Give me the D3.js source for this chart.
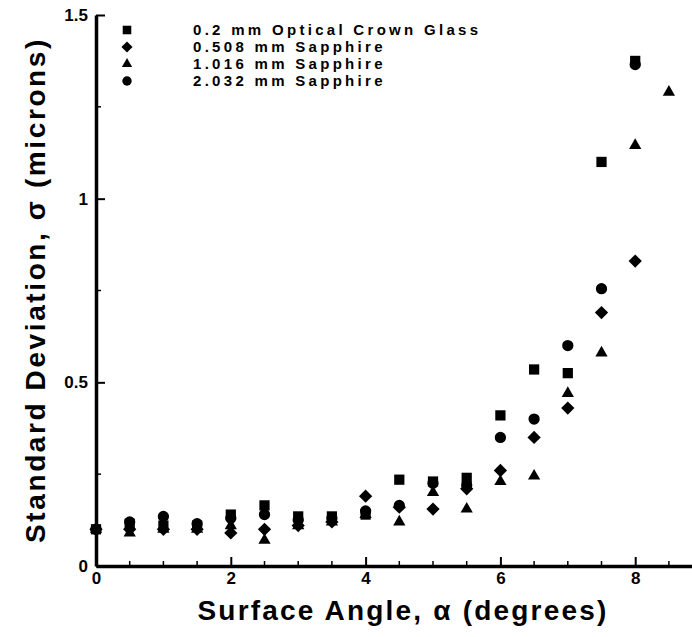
<!DOCTYPE html>
<html>
<head>
<meta charset="utf-8">
<script src="https://cdn.jsdelivr.net/npm/d3@7"></script>
<style>
  body { margin: 0; background: #fff; }
  svg { display: block; }
</style>
</head>
<body>
<div id="chart"></div>
<script>
// Size of the page
const w = 692;
const h = 637;

// Surface angles (degrees)
const angles = [0, 0.5, 1, 1.5, 2, 2.5, 3, 3.5, 4, 4.5, 5, 5.5, 6, 6.5, 7, 7.5, 8, 8.5];

// Standard deviation (microns) for each sample
const crownGlass = [0.10, 0.115, 0.11, 0.11, 0.14, 0.165, 0.135, 0.135, 0.14, 0.235, 0.23, 0.24, 0.41, 0.535, 0.525, 1.10, 1.375, null];
const sapphire508 = [0.10, 0.10, 0.10, 0.10, 0.09, 0.10, 0.11, 0.12, 0.19, 0.16, 0.155, 0.21, 0.26, 0.35, 0.43, 0.69, 0.83, null];
const sapphire1016 = [0.10, 0.09, 0.10, 0.10, 0.11, 0.07, 0.11, 0.12, 0.14, 0.12, 0.20, 0.155, 0.23, 0.245, 0.47, 0.58, 1.145, 1.29];
const sapphire2032 = [0.10, 0.12, 0.135, 0.115, 0.13, 0.14, 0.125, 0.13, 0.15, 0.165, 0.225, 0.22, 0.35, 0.40, 0.60, 0.755, 1.365, null];

// Legend labels
const seriesNames = ["0.2 mm Optical Crown Glass", "0.508 mm Sapphire", "1.016 mm Sapphire", "2.032 mm Sapphire"];

// Tick labels
const xTicks = [0, 2, 4, 6, 8];
const xMinor = [0.5, 1, 1.5, 2.5, 3, 3.5, 4.5, 5, 5.5, 6.5, 7, 7.5, 8.5];
const yTicks = [0, 0.5, 1, 1.5];
const yMinor = [0.25, 0.75, 1.25];

// Marker shapes: diamond is a square turned 45 degrees
const series = [
    { name: seriesNames[0], values: crownGlass, symbol: d3.symbolSquare, size: 105, rot: 0 },
    { name: seriesNames[1], values: sapphire508, symbol: d3.symbolSquare, size: 88, rot: 45 },
    { name: seriesNames[2], values: sapphire1016, symbol: d3.symbolTriangle, size: 65, rot: 0 },
    { name: seriesNames[3], values: sapphire2032, symbol: d3.symbolCircle, size: 100, rot: 0 }
];

const font = "'Liberation Sans', Arial, Helvetica, sans-serif";

const svg = d3.select("#chart")
    .append("svg")
    .attr("width", w)
    .attr("height", h)
    .attr("font-family", font);

// Scales
const x = d3.scaleLinear().domain([0, 9]).range([96, 702.6]);
const y = d3.scaleLinear().domain([0, 1.5]).range([566, 15]);

// Axes (ticks point inward)
const xAxis = d3.axisBottom(x).tickValues(xTicks).tickSize(-9).tickSizeOuter(0).tickPadding(6)
    .tickFormat(d3.format("d"));
const yAxis = d3.axisLeft(y).tickValues(yTicks).tickSize(-9).tickSizeOuter(0).tickPadding(8)
    .tickFormat(d => d3.format("")(d));

const gx = svg.append("g")
    .attr("transform", `translate(0,${y(0)})`)
    .call(xAxis);
gx.selectAll(".minor")
    .data(xMinor)
    .enter()
    .append("line")
    .attr("class", "minor")
    .attr("x1", d => x(d)).attr("x2", d => x(d))
    .attr("y1", 0).attr("y2", -5)
    .attr("stroke", "#000").attr("stroke-width", 1.5);

const gy = svg.append("g")
    .attr("transform", `translate(${x(0)},0)`)
    .call(yAxis);
gy.selectAll(".minor")
    .data(yMinor)
    .enter()
    .append("line")
    .attr("class", "minor")
    .attr("y1", d => y(d)).attr("y2", d => y(d))
    .attr("x1", 0).attr("x2", 5)
    .attr("stroke", "#000").attr("stroke-width", 1.5);

[gx, gy].forEach(g => {
    g.select(".domain").attr("stroke", "#000").attr("stroke-width", 3.5);
    g.selectAll(".tick line").attr("stroke", "#000").attr("stroke-width", 2);
    g.selectAll(".tick text")
        .attr("fill", "#000")
        .attr("font-size", "17px")
        .attr("font-weight", "bold")
        .attr("font-family", font);
});

// Axis titles
svg.append("text")
    .attr("x", 403)
    .attr("y", 620)
    .attr("text-anchor", "middle")
    .attr("font-size", "28px")
    .attr("font-weight", "bold")
    .attr("letter-spacing", "2.2px")
    .text("Surface Angle, α (degrees)");

svg.append("text")
    .attr("transform", `translate(45,290) rotate(-90)`)
    .attr("text-anchor", "middle")
    .attr("font-size", "28px")
    .attr("font-weight", "bold")
    .attr("letter-spacing", "2.6px")
    .text("Standard Deviation, σ (microns)");

// Data markers
series.forEach(s => {
    const pts = angles.map((a, i) => ({ a: a, v: s.values[i] })).filter(d => d.v != null);
    svg.append("g")
        .selectAll("path")
        .data(pts)
        .enter()
        .append("path")
        .attr("d", d3.symbol().type(s.symbol).size(s.size))
        .attr("transform", d => `translate(${x(d.a)},${y(d.v)}) rotate(${s.rot})`)
        .attr("fill", "#000");
});

// Legend
const legend = svg.append("g");
series.forEach((s, i) => {
    const ly = 30 + i * 17;
    legend.append("path")
        .attr("d", d3.symbol().type(s.symbol).size(s.size * 0.7))
        .attr("transform", `translate(127,${ly}) rotate(${s.rot})`)
        .attr("fill", "#000");
    legend.append("text")
        .attr("x", 193)
        .attr("y", ly + 5)
        .attr("font-size", "15px")
        .attr("font-weight", "bold")
        .attr("letter-spacing", "3.3px")
        .text(s.name);
});
</script>
</body>
</html>
